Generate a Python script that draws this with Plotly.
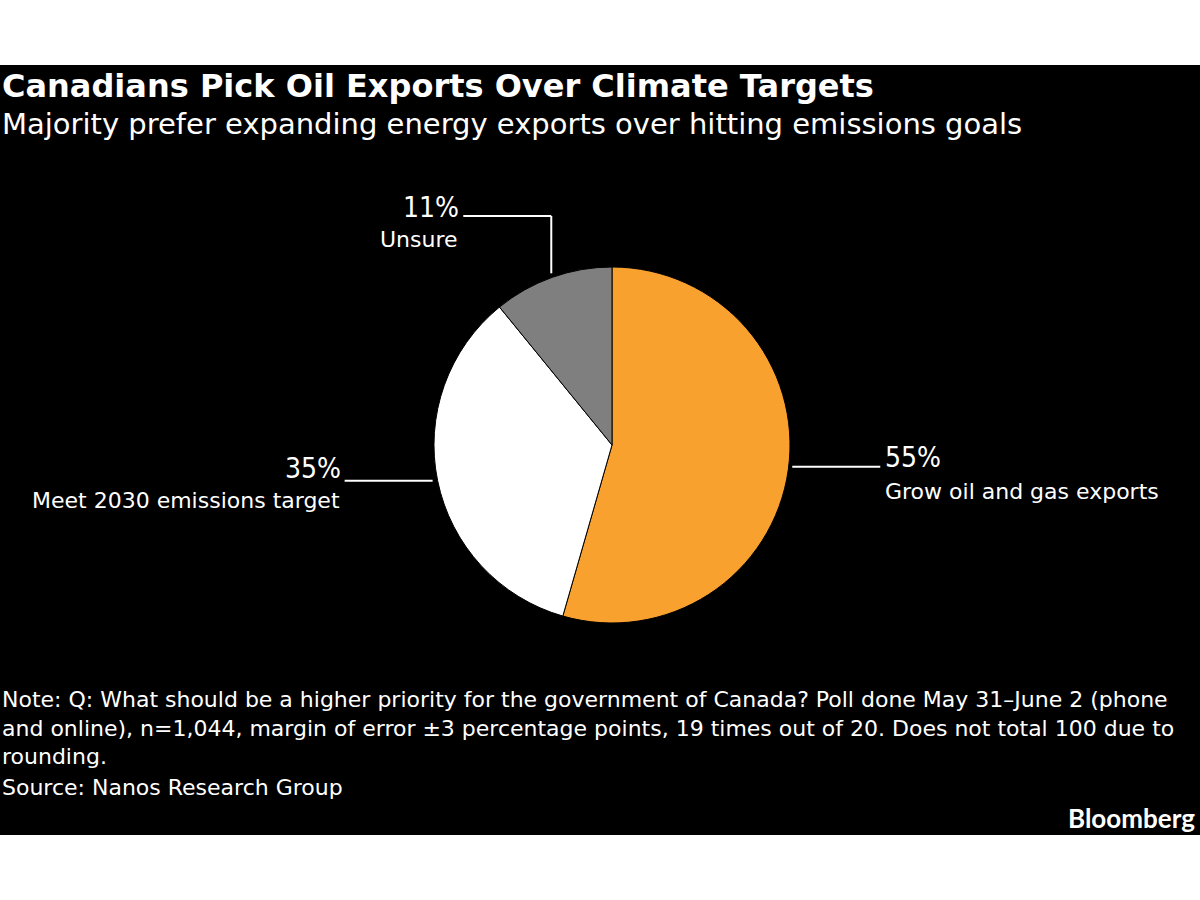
import numpy as np
import plotly.graph_objects as go

# ---- data ----
labels = ["Grow oil and gas exports", "Meet 2030 emissions target", "Unsure"]
values = [55, 35, 11]
colors = ["#F9A12E", "#FFFFFF", "#7F7F7F"]

title = "Canadians Pick Oil Exports Over Climate Targets"
subtitle = "Majority prefer expanding energy exports over hitting emissions goals"
note = ("Note: Q: What should be a higher priority for the government of Canada? Poll done May 31–June 2 (phone<br>"
        "and online), n=1,044, margin of error ±3 percentage points, 19 times out of 20. Does not total 100 due to<br>"
        "rounding.")
source = "Source: Nanos Research Group"

W, H = 1200, 900
FONT = "DejaVu Sans, sans-serif"
FONT_C = "DejaVu Sans Condensed, DejaVu Sans, sans-serif"

def px(x):
    return x / W

def py(y):
    return 1 - y / H

# pie geometry (pixels)
cx, cy, r = 612, 445, 178

fig = go.Figure()
fig.add_trace(go.Pie(
    labels=labels, values=values, sort=False, direction="clockwise", rotation=0,
    marker=dict(colors=colors, line=dict(color="#000000", width=1)),
    textinfo="none", hoverinfo="label+value", showlegend=False,
    domain=dict(x=[px(cx - r), px(cx + r)], y=[py(cy + r), py(cy - r)]),
))

shapes = [dict(type="rect", xref="paper", yref="paper", x0=0, x1=1, y0=py(835), y1=py(65),
               fillcolor="#000000", line=dict(width=0), layer="below")]
annotations = []

# slice mid angles (clockwise from 12 o'clock)
tot = sum(values)
cum = np.cumsum([0] + values[:-1])
mids = [(c + v / 2) / tot * 2 * np.pi for c, v in zip(cum, values)]
anchors = [(cx + r * np.sin(a), cy - r * np.cos(a)) for a in mids]

line_style = dict(color="#FFFFFF", width=2)
L = 88

def seg(x0, y0, x1, y1):
    shapes.append(dict(type="line", xref="paper", yref="paper",
                       x0=px(x0), y0=py(y0), x1=px(x1), y1=py(y1), line=line_style))

def label(x, y, text, size, anchor, family=FONT):
    annotations.append(dict(xref="paper", yref="paper", x=px(x), y=py(y), text=text,
                            showarrow=False, xanchor=anchor, yanchor="middle",
                            font=dict(family=family, size=size, color="#FFFFFF")))

# orange (right)
ax, ay = anchors[0]
x0 = ax + 4
seg(x0, ay - 3, x0 + L, ay - 3)
label(x0 + L + 3, ay - 12, f"{values[0]}%", 28, "left", FONT_C)
label(x0 + L + 3, ay + 22, labels[0], 22, "left")

# white (left)
ax, ay = anchors[1]
x0 = ax - 5
seg(x0, ay, x0 - L, ay)
label(x0 - L - 2, ay - 12, f"{values[1]}%", 28, "right", FONT_C)
label(x0 - L - 3, ay + 20, labels[1], 22, "right")

# gray (top)
ax, ay = anchors[2]
top = 216
seg(ax - 1, ay - 4, ax - 1, top)
seg(ax - 1, top, ax - 1 - L, top)
label(ax - 1 - L - 2, top - 8, f"{values[2]}%", 28, "right", FONT_C)
label(ax - 1 - L - 3, top + 24, labels[2], 22, "right")

# titles
annotations += [
    dict(xref="paper", yref="paper", x=0, y=py(86), text=f"<b>{title}</b>", showarrow=False,
         xanchor="left", yanchor="middle", font=dict(family=FONT, size=32, color="#FFFFFF")),
    dict(xref="paper", yref="paper", x=0, y=py(124), text=subtitle, showarrow=False,
         xanchor="left", yanchor="middle", font=dict(family=FONT, size=29, color="#FFFFFF")),
    dict(xref="paper", yref="paper", x=0, y=py(728), text=note, showarrow=False, align="left",
         xanchor="left", yanchor="middle", font=dict(family=FONT, size=22, color="#FFFFFF")),
    dict(xref="paper", yref="paper", x=0, y=py(787), text=source, showarrow=False,
         xanchor="left", yanchor="middle", font=dict(family=FONT, size=22, color="#FFFFFF")),
    dict(xref="paper", yref="paper", x=px(1197), y=py(818), text="<b>Bloomberg</b>", showarrow=False,
         xanchor="right", yanchor="middle", font=dict(family="Lato, sans-serif", size=26, color="#FFFFFF")),
]

fig.update_layout(
    width=W, height=H, margin=dict(l=0, r=0, t=0, b=0),
    paper_bgcolor="#FFFFFF", plot_bgcolor="#FFFFFF",
    shapes=shapes, annotations=annotations,
)

fig.write_html("out.html")
